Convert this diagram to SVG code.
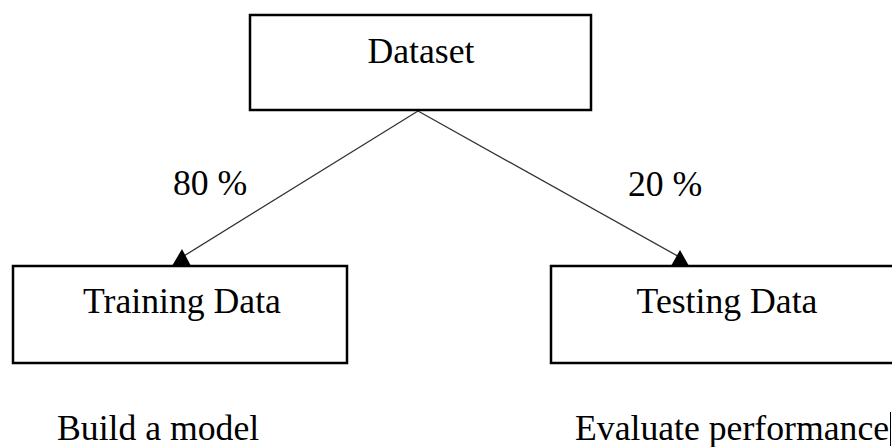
<svg xmlns="http://www.w3.org/2000/svg" width="892" height="447" viewBox="0 0 892 447">
<defs>
<style>
.box{fill:#fff;stroke:#000;stroke-width:2.5}
.t{font-family:"Liberation Serif","Times New Roman",serif;font-size:35.7px;fill:#000}
.c{stroke:#333;stroke-width:1.3;fill:none}
</style>
</defs>
<rect width="892" height="447" fill="#fff"/>
<g id="connectors">
<line class="c" x1="418" y1="111" x2="179" y2="259" />
<path d="M182,249 L191,266 L172,266 Z" fill="#000"/>
<line class="c" x1="418" y1="111" x2="683" y2="259" />
<path d="M680,250 L689,266 L671,266 Z" fill="#000"/>
</g>
<g id="dataset">
<rect class="box" x="250" y="15" width="341" height="95"/>
<text class="t" x="421" y="63" text-anchor="middle">Dataset</text>
</g>
<g id="training">
<rect class="box" x="13" y="266" width="334" height="97"/>
<text class="t" x="182" y="313" text-anchor="middle">Training Data</text>
</g>
<g id="testing">
<rect class="box" x="551" y="266" width="360" height="97"/>
<text class="t" x="727" y="313" text-anchor="middle">Testing Data</text>
</g>
<g id="labels">
<text class="t" x="173" y="195">80 %</text>
<text class="t" x="628" y="196">20 %</text>
<text class="t" x="57" y="440">Build a model</text>
<text class="t" x="575" y="440">Evaluate performance</text>
<line x1="890.5" y1="412" x2="890.5" y2="446" stroke="#000" stroke-width="1"/>
</g>
</svg>
